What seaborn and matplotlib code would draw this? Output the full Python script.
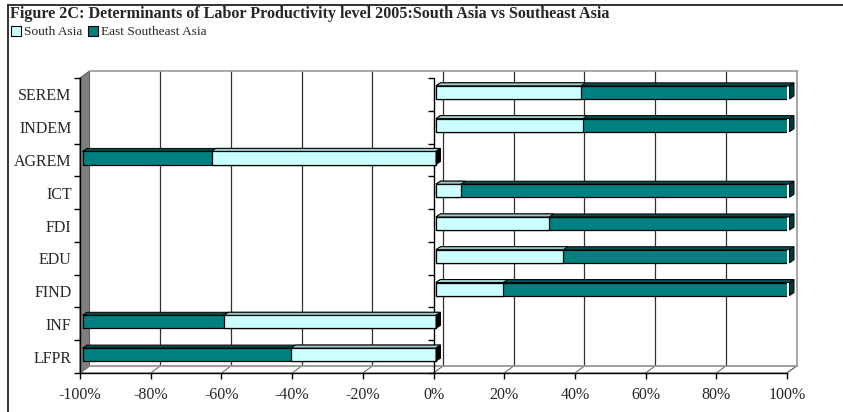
import numpy as np
import pandas as pd
import matplotlib
matplotlib.use("Agg")
import matplotlib.pyplot as plt
import matplotlib.transforms as mtransforms
from matplotlib.patches import Polygon, Patch
from matplotlib.lines import Line2D
import seaborn as sns

# --- data (shares in %) ---
categories = ["SEREM", "INDEM", "AGREM", "ICT", "FDI", "EDU", "FIND", "INF", "LFPR"]
south_asia = [41, 41.5, 63.5, 7, 32, 36, 19, 60, 41]
east_southeast_asia = [59, 58.5, 36.5, 93, 68, 64, 81, 40, 59]
direction = [1, 1, -1, 1, 1, 1, 1, -1, -1]   # bars drawn to the left are negative
x_ticks = [-100, -80, -60, -40, -20, 0, 20, 40, 60, 80, 100]

LIGHT = "#CCFFFF"
TEAL = "#008080"

df = pd.DataFrame({
    "cat": categories,
    "sa": np.array(direction) * np.array(south_asia),
    "total": np.array(direction) * (np.array(south_asia) + np.array(east_southeast_asia)),
})

sns.set_style("white")
plt.rcParams["font.family"] = ["Liberation Serif", "DejaVu Serif"]

W, H = 843, 412
fig = plt.figure(figsize=(W / 100, H / 100), dpi=100)

# front plane and back wall (3D depth imitation)
DX, DY = 9.5, 7          # depth offset in pixels
fx0, fx1, fy0, fy1 = 80, 787, 373, 78   # front plane pixel box
ax_back = fig.add_axes([(fx0 + DX) / W, (H - fy0 + DY) / H, (fx1 - fx0) / W, (fy0 - fy1) / H])
ax = fig.add_axes([fx0 / W, (H - fy0) / H, (fx1 - fx0) / W, (fy0 - fy1) / H])
ax.patch.set_alpha(0)
ax_back.patch.set_alpha(0)

# back wall with gridlines
ax_back.set_xlim(-100, 100)
ax_back.set_ylim(0, 1)
for t in x_ticks[1:]:
    ax_back.axvline(t, color="#303030", lw=0.9)
ax_back.set_xticks([])
ax_back.set_yticks([])
for s in ["top", "right", "bottom"]:
    ax_back.spines[s].set_color("#9a9a9a")
    ax_back.spines[s].set_linewidth(1.2)
ax_back.spines["left"].set_visible(False)

# --- bars ---
sns.barplot(data=df, x="total", y="cat", color=TEAL, saturation=1, width=0.4,
            edgecolor="black", linewidth=0.9, orient="h", ax=ax)
n_teal = len(ax.patches)
sns.barplot(data=df, x="sa", y="cat", color=LIGHT, saturation=1, width=0.4,
            edgecolor="black", linewidth=0.9, orient="h", ax=ax)

ax.set_xlim(-100, 100)
ax.set_ylim(len(categories) - 0.5, -0.5)

# move bars a little into the depth
shift = mtransforms.ScaledTranslation(2.5 / 100, 2 / 100, fig.dpi_scale_trans)
for p in ax.patches:
    p.set_transform(ax.transData + shift)
    p.set_zorder(3)

# top and end faces of the 3D bars
bdx, bdy = 4.5, 3
ident = mtransforms.IdentityTransform()
for i, p in enumerate(ax.patches):
    bb = p.get_window_extent()
    is_teal = i < n_teal
    top_col = "#005050" if is_teal else "#9ECACA"
    top = Polygon([(bb.x0, bb.y1), (bb.x1, bb.y1), (bb.x1 + bdx, bb.y1 + bdy), (bb.x0 + bdx, bb.y1 + bdy)],
                  closed=True, facecolor=top_col, edgecolor="black", lw=0.7,
                  transform=ident, clip_on=False, zorder=2.9 if is_teal else 3.1)
    ax.add_artist(top)
    x_end = max(bb.x0, bb.x1)
    # the right end belongs to teal on positive rows and to the light bar on negative rows
    right_is_zero = abs(max(p.get_x(), p.get_x() + p.get_width())) < 1e-9
    if (is_teal and not right_is_zero) or (not is_teal and right_is_zero):
        side_col = "#003838" if is_teal else "#000000"
        side = Polygon([(x_end, bb.y0), (x_end, bb.y1), (x_end + bdx, bb.y1 + bdy), (x_end + bdx, bb.y0 + bdy)],
                       closed=True, facecolor=side_col, edgecolor="black", lw=0.7,
                       transform=ident, clip_on=False, zorder=3.2)
        ax.add_artist(side)

# --- walls and floor, behind everything ---
left_wall = Polygon([(fx0, H - fy1), (fx0 + DX, H - fy1 + DY), (fx0 + DX, H - fy0 + DY), (fx0, H - fy0)],
                    closed=True, facecolor="#808080", edgecolor="#606060", lw=0.8,
                    transform=ident, zorder=-2)
fig.add_artist(left_wall)
floor = Polygon([(fx0, H - fy0), (fx1, H - fy0), (fx1 + DX, H - fy0 + DY), (fx0 + DX, H - fy0 + DY)],
                closed=True, facecolor="white", edgecolor="#9a9a9a", lw=1.0,
                transform=ident, zorder=-2)
fig.add_artist(floor)
for t in x_ticks:
    xp = ax.transData.transform((t, 0))[0]
    fig.add_artist(Line2D([xp, xp + DX], [H - fy0, H - fy0 + DY], color="#707070", lw=0.8,
                          transform=ident, zorder=-1))

sns.despine(ax=ax, top=True, right=True, left=False, bottom=False)
for s in ["left", "bottom"]:
    ax.spines[s].set_color("black")
    ax.spines[s].set_linewidth(1.0)
    ax.spines[s].set_zorder(4)

# category axis at zero with boundary ticks
bounds = np.arange(len(categories) + 1) - 0.5
ax.axvline(0, color="black", lw=1.0, zorder=2.5)
ax.plot([0] * len(bounds), bounds, ls="none", marker=0, ms=4, mew=1.0, color="black",
        clip_on=False, zorder=2.5)

ax.set_yticks(range(len(categories)))
ax.set_yticklabels(categories)
ax.set_yticks(bounds, minor=True)
ax.tick_params(axis="y", which="major", length=0, pad=6, labelsize=11.5)
ax.tick_params(axis="y", which="minor", length=4, width=1.0, color="black", left=True)
ax.set_xticks(x_ticks)
ax.set_xticklabels([f"{t}%" for t in x_ticks])
ax.tick_params(axis="x", length=4, width=1.0, color="black", bottom=True, pad=6, labelsize=11.5)
ax.set_xlabel("")
ax.set_ylabel("")

# --- title, legend, frame ---
fig.text(10 / W, 1 - 14 / H, "Figure 2C: Determinants of Labor Productivity level 2005:South Asia vs Southeast Asia",
         fontsize=11.6, fontweight="bold", va="center", ha="left")
handles = [Patch(facecolor=LIGHT, edgecolor="black", lw=0.8, label="South Asia"),
           Patch(facecolor=TEAL, edgecolor="black", lw=0.8, label="East Southeast Asia")]
fig.legend(handles=handles, loc="center left", bbox_to_anchor=(11 / W, 1 - 32 / H), ncol=2,
           frameon=False, fontsize=9.6, handlelength=0.75, handleheight=0.75,
           handletextpad=0.25, columnspacing=0.4, borderaxespad=0, borderpad=0)

fig.add_artist(Line2D([8 / W, 8 / W], [0, 1 - 5 / H], color="#222222", lw=1.3))
fig.add_artist(Line2D([8 / W, 1], [1 - 5 / H, 1 - 5 / H], color="#222222", lw=1.3))

fig.savefig("out.png", dpi=100, facecolor="white")
